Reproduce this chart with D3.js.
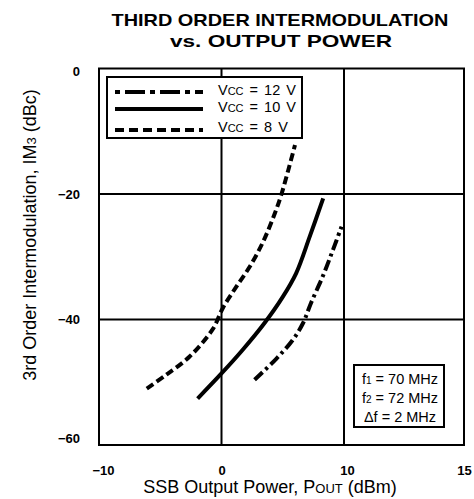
<!DOCTYPE html>
<html>
<head>
<meta charset="utf-8">
<script src="https://cdn.jsdelivr.net/npm/d3@7"></script>
<style>
  body { margin: 0; background: #fff; }
  svg { display: block; font-family: "Liberation Sans", Arial, sans-serif; }
</style>
</head>
<body>
<svg id="chart" width="474" height="499"></svg>
<script>
// --- Data ---
const xTicks = [-10, 0, 10, 15];
const yTicks = [0, -20, -40, -60];

// Vcc = 8 V (dashed)
const poutV8 = [-6.1, -4.5, -2.6, -0.7, 0.1, 1.2, 2.3, 3.4, 4.35, 4.9, 5.45, 6.0];
const im3V8 = [-51, -48.8, -45.9, -41.5, -38.2, -34.8, -31.6, -27.6, -23.1, -20, -16.2, -12.2];

// Vcc = 10 V (solid)
const poutV10 = [-1.95, 0, 1.7, 3.5, 5.0, 6.1, 7.2, 8.3];
const im3V10 = [-52.6, -48.6, -44.9, -40.6, -36.4, -32.6, -26.8, -20.7];

// Vcc = 12 V (dash-dot)
const poutV12 = [2.7, 4.45, 5.8, 6.65, 7.3, 8.25, 9.1, 9.8];
const im3V12 = [-49.6, -46.3, -43.3, -40.6, -37.4, -33.2, -28.9, -25.2];

const legendLabels = ['12 V', '10 V', '8 V'];
const noteLines = [['f', '1', ' = 70 MHz'], ['f', '2', ' = 72 MHz'], ['\u0394f', '', ' = 2 MHz']];

// --- Setup ---
const svg = d3.select('#chart');
const plotL = 99, plotR = 464, plotT = 68.5, plotB = 445;

// the last x label (15) sits on the right edge, half a grid cell further than the scale would suggest
const x = d3.scaleLinear().domain([-10, 10, 15]).range([plotL, 344, plotR]);
const y = d3.scaleLinear().domain([-60, 0]).range([plotB, plotT]);

// title
const title = svg.append('g').attr('font-weight', 'bold').attr('font-size', 17).attr('text-anchor', 'middle');
title.append('text').attr('x', 280).attr('y', 26).attr('textLength', 337).attr('lengthAdjust', 'spacingAndGlyphs')
    .text('THIRD ORDER INTERMODULATION');
title.append('text').attr('x', 281).attr('y', 47).attr('textLength', 222).attr('lengthAdjust', 'spacingAndGlyphs')
    .text('vs. OUTPUT POWER');

// grid
const grid = svg.append('g').attr('stroke', '#000').attr('stroke-width', 2);
[0, 10].forEach(v => grid.append('line').attr('x1', x(v)).attr('x2', x(v)).attr('y1', plotT).attr('y2', plotB));
[-20, -40].forEach(v => grid.append('line').attr('x1', plotL).attr('x2', plotR).attr('y1', y(v)).attr('y2', y(v)));
svg.append('rect').attr('x', plotL).attr('y', plotT).attr('width', plotR - plotL).attr('height', plotB - plotT)
    .attr('fill', 'none').attr('stroke', '#000').attr('stroke-width', 2);

// axes (labels only)
const xAxis = svg.append('g').attr('transform', `translate(0,${plotB})`)
    .call(d3.axisBottom(x).tickValues(xTicks).tickSize(0).tickPadding(21).tickFormat(d3.format('d')));
const yAxis = svg.append('g').attr('transform', `translate(${plotL},0)`)
    .call(d3.axisLeft(y).tickValues(yTicks).tickSize(0).tickPadding(19).tickFormat(d3.format('d')));
[xAxis, yAxis].forEach(a => {
    a.select('.domain').remove();
    a.selectAll('text').attr('font-family', '"Liberation Sans", Arial, sans-serif')
        .attr('font-size', 13).attr('font-weight', 'bold').attr('fill', '#000');
});
xAxis.selectAll('text').filter(d => d === -10).attr('dx', 4);
xAxis.selectAll('text').filter(d => d === 10).attr('dx', 3);
yAxis.selectAll('text').filter(d => d === -60).attr('dy', '-0.2em');
yAxis.selectAll('text').filter(d => d === 0).attr('dy', '0.5em');

// axis titles
const xt = svg.append('text').attr('x', 270).attr('y', 493).attr('text-anchor', 'middle').attr('font-size', 18);
xt.append('tspan').text('SSB Output Power, P');
xt.append('tspan').attr('font-size', 13).text('OUT');
xt.append('tspan').text(' (dBm)');

const yt = svg.append('text').attr('transform', 'translate(36,235) rotate(-90)')
    .attr('text-anchor', 'middle').attr('font-size', 18);
yt.append('tspan').text('3rd Order Intermodulation, IM');
yt.append('tspan').attr('font-size', 13).text('3');
yt.append('tspan').text(' (dBc)');

// curves
const line = d3.line().x(d => x(d[0])).y(d => y(d[1])).curve(d3.curveCatmullRom);
const series = [
    { xs: poutV12, ys: im3V12, dash: '11,4,3,4' },
    { xs: poutV10, ys: im3V10, dash: null },
    { xs: poutV8, ys: im3V8, dash: '8,4' }
];
series.forEach(s => {
    svg.append('path').datum(d3.zip(s.xs, s.ys)).attr('d', line)
        .attr('fill', 'none').attr('stroke', '#000').attr('stroke-width', 4)
        .attr('stroke-dasharray', s.dash);
});

// legend
const legend = svg.append('g');
legend.append('rect').attr('x', 107).attr('y', 77).attr('width', 195).attr('height', 61)
    .attr('fill', '#fff').attr('stroke', '#000').attr('stroke-width', 2);
const legendDash = ['5,5,20,5', null, '9,5'];
const legendY = [92, 109, 130];
legendLabels.forEach((lab, i) => {
    legend.append('line').attr('x1', 115).attr('x2', 203).attr('y1', legendY[i]).attr('y2', legendY[i])
        .attr('stroke', '#000').attr('stroke-width', 4).attr('stroke-dasharray', legendDash[i]);
    const t = legend.append('text').attr('x', 218).attr('y', legendY[i] + 2 + (i === 2 ? 0 : 1))
        .attr('font-size', 14.5).attr('word-spacing', 2);
    t.append('tspan').text('V');
    t.append('tspan').attr('font-size', 11).text('CC');
    t.append('tspan').text(' = ' + lab);
});

// test conditions box
const note = svg.append('g');
note.append('rect').attr('x', 354).attr('y', 365).attr('width', 90).attr('height', 62)
    .attr('fill', '#fff').attr('stroke', '#000').attr('stroke-width', 2);
const noteY = [384, 403, 422];
noteLines.forEach((parts, i) => {
    const t = note.append('text').attr('x', 400).attr('y', noteY[i]).attr('text-anchor', 'middle').attr('font-size', 14.5);
    t.append('tspan').text(parts[0]);
    if (parts[1]) t.append('tspan').attr('font-size', 10).text(parts[1]);
    t.append('tspan').text(parts[2]);
});
</script>
</body>
</html>
